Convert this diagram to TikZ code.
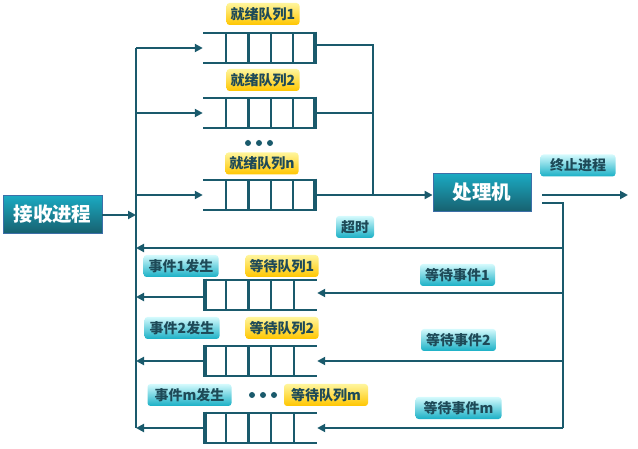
\documentclass[tikz,border=0pt]{standalone}
\usepackage{fontspec}
\newfontfamily\cjk{Noto Sans CJK SC}
\usetikzlibrary{arrows.meta}
\definecolor{linec}{HTML}{1A5A6C}
\definecolor{txtc}{HTML}{1E4A58}
\definecolor{boxtop}{HTML}{1BAAC2}
\definecolor{boxbot}{HTML}{17606F}
\definecolor{boxedge}{HTML}{3D6FA8}
\definecolor{cyantop}{HTML}{D4FAFD}
\definecolor{cyanbot}{HTML}{1AB0C6}
\definecolor{yeltop}{HTML}{FFF59C}
\definecolor{yelbot}{HTML}{FFC600}
\begin{document}
\begin{tikzpicture}[x=1pt,y=-1pt,
  every node/.style={font=\cjk\bfseries},
  conn/.style={draw=linec,line width=2.7pt},
  arr/.style={conn,-{Triangle[length=8pt,width=8pt]}},
  procbox/.style={draw=boxedge,line width=0.8pt,top color=boxtop,bottom color=boxbot,
    text=white,font=\cjk\bfseries\fontsize{19.5}{19.5}\selectfont,inner sep=0pt,
    minimum height=38pt},
  yellab/.style={top color=yeltop,bottom color=yelbot,rounded corners=3pt,text=txtc,
    font=\cjk\bfseries\fontsize{14}{14}\selectfont,inner sep=0pt,
    minimum height=22pt,minimum width=73pt},
  cyanlab/.style={top color=cyantop,bottom color=cyanbot,rounded corners=3pt,text=txtc,
    font=\cjk\bfseries\fontsize{14}{14}\selectfont,inner sep=0pt,
    minimum height=22pt,minimum width=75pt},
  qline/.style={draw=linec,line width=2.7pt},
  qbar/.style={draw=linec,line width=4.5pt},
  dot/.style={circle,fill=linec,inner sep=0pt,minimum size=6pt},
  readyq/.pic={
    \node[minimum width=114pt,minimum height=30pt,inner sep=0pt] (-box) at (0,0) {};
    \draw[qline] (-57,-15) -- (57,-15) (-57,15) -- (57,15);
    \foreach \d in {-34,-11.5,11,33} \draw[qline] (\d,-15) -- (\d,15);
    \draw[qbar] (55,-16.3) -- (55,16.3);
  },
  waitq/.pic={
    \node[minimum width=114pt,minimum height=30pt,inner sep=0pt] (-box) at (0,0) {};
    \draw[qline] (-57,-15) -- (57,-15) (-57,15) -- (57,15);
    \foreach \d in {-34,-11.5,11,34} \draw[qline] (\d,-15) -- (\d,15);
    \draw[qbar] (-55,-16.3) -- (-55,16.3);
  }
]
\useasboundingbox (0,0) rectangle (638,449);

% main process boxes
\node[procbox,minimum width=99pt] (recv) at (52.5,214.5) {接收进程};
\node[procbox,minimum width=98pt] (cpu) at (482,192.5) {处理机};

% ready queues
\pic (rq1) at (260,48) {readyq};
\pic (rq2) at (260,113) {readyq};
\pic (rqn) at (260,195) {readyq};
\node[yellab] (lr1) at (263,14) {就绪队列1};
\node[yellab] (lr2) at (263,80) {就绪队列2};
\node[yellab] (lrn) at (262,163.5) {就绪队列n};
\node[dot] (d1a) at (248,143) {};
\node[dot] (d1b) at (259,143) {};
\node[dot] (d1c) at (270,143) {};

% waiting queues
\pic (wq1) at (260,295) {waitq};
\pic (wq2) at (260,361) {waitq};
\pic (wqm) at (260,428) {waitq};
\node[cyanlab] (e1) at (181,266) {事件1发生};
\node[yellab] (lw1) at (282,266) {等待队列1};
\node[cyanlab] (e2) at (182,328) {事件2发生};
\node[yellab] (lw2) at (282,328) {等待队列2};
\node[cyanlab,minimum width=84pt] (em) at (189.5,395) {事件m发生};
\node[dot] (d2a) at (252,395) {};
\node[dot] (d2b) at (263,395) {};
\node[dot] (d2c) at (274,395) {};
\node[yellab,minimum width=84pt] (lwm) at (326,395) {等待队列m};

% event labels on the right
\node[cyanlab,minimum width=38pt] (tout) at (355,227) {超时};
\node[cyanlab] (quit) at (578,165.5) {终止进程};
\node[cyanlab] (we1) at (457.5,275) {等待事件1};
\node[cyanlab] (we2) at (458.5,340) {等待事件2};
\node[cyanlab,minimum width=86pt] (wem) at (458.5,408) {等待事件m};

% junction points
\coordinate (busT) at (136,48);
\coordinate (busB) at (136,428);
\coordinate (mrg) at (373,195);
\coordinate (out) at (628,195);
\coordinate (retT) at (563,203);
\coordinate (retB) at (563,428);

% receiving bus and dispatch into ready queues
\draw[conn] (busT) -- (busB);
\draw[arr] (recv.east |- 0,215) -- (136,215);
\draw[arr] (busT) -- (rq1-box.west);
\draw[arr] (136,113) -- (rq2-box.west);
\draw[arr] (136,195) -- (rqn-box.west);

% ready queues to the processor
\draw[conn] (rq1-box.east |- 0,45) -| (mrg);
\draw[conn] (rq2-box.east) -- (373,113);
\draw[arr] (rqn-box.east) -- (cpu.west |- mrg);

% processor outputs
\draw[arr] (542,195) -- (out);
\draw[conn] (542,203) -- (retT) -- (retB);

% timeout back to the bus
\draw[arr] (563,248) -- (136,248);

% waits into the waiting queues
\draw[arr] (563,293) -- (wq1-box.east |- 0,293);
\draw[arr] (563,361) -- (wq2-box.east);
\draw[arr] (retB) -- (wqm-box.east);

% wakeups back to the bus
\draw[arr] (wq1-box.west |- 0,297) -- (136,297);
\draw[arr] (wq2-box.west) -- (136,361);
\draw[arr] (wqm-box.west) -- (busB);
\end{tikzpicture}
\end{document}
